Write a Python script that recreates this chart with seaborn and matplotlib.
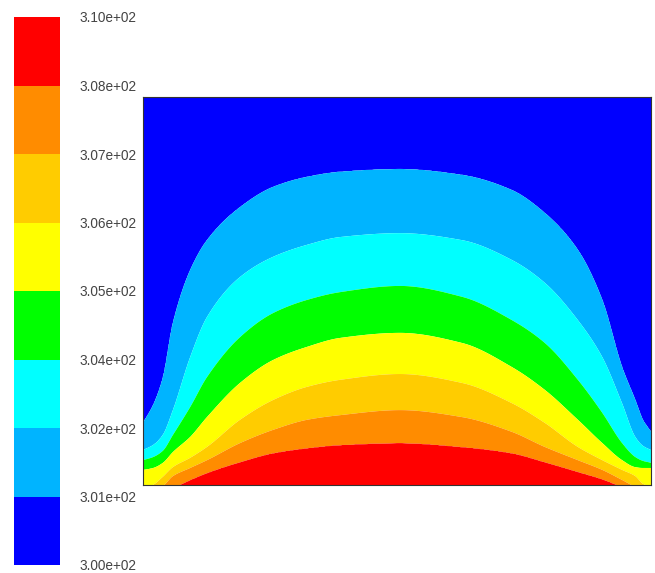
import numpy as np
import matplotlib
matplotlib.use("Agg")
import matplotlib.pyplot as plt
import seaborn as sns

sns.set_style("white")
plt.rcParams['font.family'] = ['Liberation Sans', 'DejaVu Sans']

# Contour levels (temperature, K) and colorbar tick labels (bottom -> top)
levels = [300.0, 301.25, 302.5, 303.75, 305.0, 306.25, 307.5, 308.75, 310.0]
tick_labels = ["3.00e+02", "3.01e+02", "3.02e+02", "3.04e+02", "3.05e+02",
               "3.06e+02", "3.07e+02", "3.08e+02", "3.10e+02"]
band_colors = ["#0000ff", "#00b4ff", "#00ffff", "#00ff00",
               "#ffff00", "#ffcc00", "#ff8c00", "#ff0000"]

# Normalised x positions where the contour boundaries were read
xs = [0.000, 0.020, 0.039, 0.059, 0.093, 0.126, 0.191, 0.256, 0.323, 0.388,
      0.506, 0.628, 0.726, 0.791, 0.856, 0.904, 0.943, 0.969, 0.984, 1.000]

# Height (normalised) of each iso-line along xs
iso_301_25 = [0.160, 0.206, 0.276, 0.418, 0.554, 0.631, 0.716, 0.768, 0.794, 0.807,
              0.814, 0.799, 0.760, 0.701, 0.606, 0.477, 0.304, 0.219, 0.168, 0.137]
iso_302_50 = [0.090, 0.103, 0.129, 0.193, 0.330, 0.433, 0.536, 0.588, 0.619, 0.639,
              0.649, 0.631, 0.580, 0.521, 0.425, 0.330, 0.211, 0.124, 0.101, 0.090]
iso_303_75 = [0.064, 0.072, 0.088, 0.129, 0.201, 0.278, 0.381, 0.443, 0.477, 0.497,
              0.513, 0.485, 0.425, 0.366, 0.271, 0.186, 0.108, 0.072, 0.062, 0.057]
iso_305_00 = [0.039, 0.044, 0.057, 0.085, 0.124, 0.175, 0.263, 0.322, 0.356, 0.379,
              0.392, 0.366, 0.304, 0.245, 0.168, 0.108, 0.064, 0.046, 0.044, 0.044]
iso_306_25 = [-0.013, 0.000, 0.021, 0.046, 0.070, 0.098, 0.168, 0.219, 0.253, 0.271,
              0.286, 0.263, 0.211, 0.160, 0.098, 0.064, 0.039, 0.023, 0.003, -0.005]
iso_307_50 = [-0.026, -0.015, -0.003, 0.023, 0.044, 0.064, 0.108, 0.142, 0.168, 0.180,
              0.193, 0.175, 0.137, 0.098, 0.064, 0.039, 0.013, -0.005, -0.013, -0.023]
iso_308_75 = [-0.039, -0.031, -0.021, -0.008, 0.013, 0.031, 0.059, 0.082, 0.095, 0.103,
              0.108, 0.098, 0.082, 0.059, 0.034, 0.015, -0.005, -0.018, -0.026, -0.034]

iso_lines = [iso_308_75, iso_307_50, iso_306_25, iso_305_00,
             iso_303_75, iso_302_50, iso_301_25]
iso_values = levels[7:0:-1]  # 308.75 ... 301.25


def pchip(x, y, xn):
    """Monotone piecewise cubic Hermite interpolation through read points."""
    x = np.asarray(x, float)
    y = np.asarray(y, float)
    h = np.diff(x)
    d = np.diff(y) / h
    m = np.zeros_like(y)
    for k in range(1, len(x) - 1):
        if d[k - 1] * d[k] > 0:
            w1 = 2 * h[k] + h[k - 1]
            w2 = h[k] + 2 * h[k - 1]
            m[k] = (w1 + w2) / (w1 / d[k - 1] + w2 / d[k])
    m[0] = d[0]
    m[-1] = d[-1]
    idx = np.clip(np.searchsorted(x, xn) - 1, 0, len(x) - 2)
    t = (xn - x[idx]) / h[idx]
    h00 = 2 * t**3 - 3 * t**2 + 1
    h10 = t**3 - 2 * t**2 + t
    h01 = -2 * t**3 + 3 * t**2
    h11 = t**3 - t**2
    return (h00 * y[idx] + h10 * h[idx] * m[idx]
            + h01 * y[idx + 1] + h11 * h[idx] * m[idx + 1])


# Build the temperature field on a grid from the iso-lines
gx = np.linspace(0, 1, 800)
gy = np.linspace(0, 1, 640)
curves = np.array([pchip(xs, c, gx) for c in iso_lines])  # (7, nx)
T = np.empty((gy.size, gx.size))
for j in range(gx.size):
    h = np.maximum.accumulate(curves[:, j] + np.arange(7) * 1e-6)
    xp = np.concatenate([[h[0] - 1.0], h, [h[-1] + 1.0]])
    fp = np.concatenate([[levels[-1]], iso_values, [levels[0]]])
    T[:, j] = np.interp(gy, xp, fp)
T = np.clip(T, levels[0] + 1e-6, levels[-1] - 1e-6)

fig = plt.figure(figsize=(6.55, 5.73), dpi=100)
ax = fig.add_axes([143 / 655, 88 / 573, 508 / 655, 388 / 573])
cax = fig.add_axes([14 / 655, 8 / 573, 46 / 655, 548 / 573])

cf = ax.contourf(gx, gy, T, levels=levels, colors=band_colors, antialiased=True)
ax.set_xlim(0, 1)
ax.set_ylim(0, 1)
ax.set_xticks([])
ax.set_yticks([])
for s in ax.spines.values():
    s.set_color("#333333")
    s.set_linewidth(0.8)

cb = fig.colorbar(cf, cax=cax, ticks=levels, spacing="uniform")
cb.ax.set_yticklabels(tick_labels)
cb.ax.tick_params(length=0, pad=14, labelsize=9.8, labelcolor="#444444")
cb.outline.set_visible(False)

fig.savefig("out.png", dpi=100)
